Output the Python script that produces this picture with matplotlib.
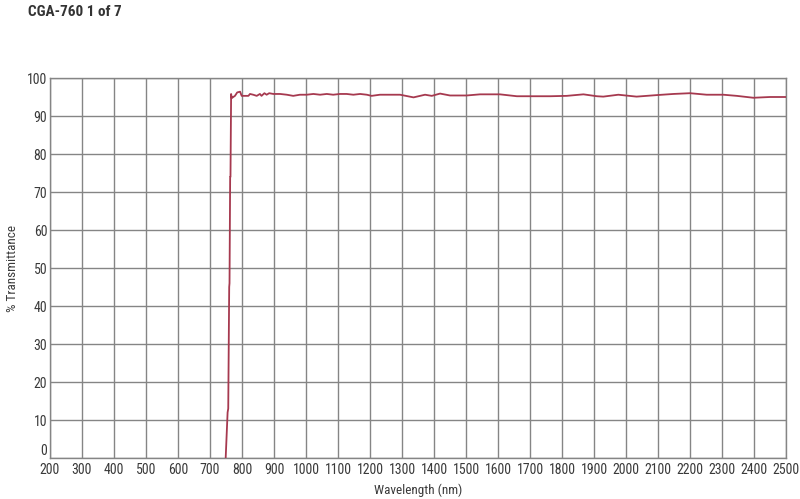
import matplotlib
matplotlib.use("Agg")
import matplotlib.pyplot as plt
from matplotlib import font_manager

# transmittance curve
wavelength = [749, 755, 757, 760, 761, 763, 764, 766, 768, 771, 778, 785, 794, 799,
              810, 820, 825, 835, 846, 856, 861, 870, 877, 885, 898, 919, 940, 960,
              981, 1002, 1023, 1044, 1065, 1085, 1106, 1127, 1148, 1169, 1190, 1205,
              1231, 1262, 1294, 1336, 1372, 1393, 1419, 1450, 1502, 1544, 1606, 1659,
              1763, 1815, 1867, 1909, 1929, 1976, 2033, 2096, 2148, 2200, 2252, 2304,
              2346, 2398, 2450, 2500]
transmittance = [0, 12, 13, 45, 46, 74, 74, 95.8, 94.7, 94.9, 95.3, 96.2, 96.4, 95.3,
                 95.3, 95.3, 95.8, 95.6, 95.3, 95.8, 95.3, 96.0, 95.6, 96.0, 95.8, 95.8,
                 95.6, 95.3, 95.6, 95.6, 95.8, 95.6, 95.8, 95.6, 95.8, 95.8, 95.6, 95.8,
                 95.6, 95.3, 95.6, 95.6, 95.6, 94.9, 95.6, 95.3, 95.9, 95.4, 95.4, 95.7,
                 95.7, 95.2, 95.2, 95.3, 95.7, 95.2, 95.1, 95.6, 95.1, 95.5, 95.8, 96.0,
                 95.6, 95.6, 95.3, 94.8, 95.0, 95.0]

xticks = list(range(200, 2501, 100))
yticks = list(range(0, 101, 10))

installed = {f.name for f in font_manager.fontManager.ttflist}
fam = [f for f in ["Liberation Sans Narrow", "Roboto Condensed", "Liberation Sans"] if f in installed]
plt.rcParams["font.family"] = fam + ["DejaVu Sans"]

fig = plt.figure(figsize=(8, 4.99), dpi=100)
ax = fig.add_axes([50 / 800, 1 - 458 / 499, 736 / 800, 380 / 499])

grid_c = "#858585"
for x in xticks:
    ax.axvline(x, color=grid_c, lw=1, zorder=1)
for y in yticks:
    ax.axhline(y, color=grid_c, lw=1, zorder=1)

ax.plot(wavelength, transmittance, color="#a6394f", lw=1.3, zorder=3)

ax.set_xlim(200, 2500)
ax.set_ylim(0, 100)
ax.set_xticks(xticks)
ax.set_yticks(yticks)
ax.tick_params(length=0, labelsize=10, colors="#3a3a3a")
ax.tick_params(axis="x", pad=3.5)
ax.tick_params(axis="y", pad=2)
for s in ax.spines.values():
    s.set_color(grid_c)
    s.set_linewidth(1)

# the "0" sits just above the axis line so it clears "200"
ax.get_yticklabels()[0].set_verticalalignment("bottom")

ax.set_xlabel("Wavelength (nm)", fontsize=9.5, color="#3a3a3a", labelpad=5)
ax.set_ylabel("% Transmittance", fontsize=9.5, color="#3a3a3a", labelpad=6)

fig.text(28 / 800, 1 - 12 / 499, "CGA-760 1 of 7", fontsize=11, fontweight="bold",
         color="#333333", va="center", ha="left")

fig.savefig("out.png", dpi=100)
